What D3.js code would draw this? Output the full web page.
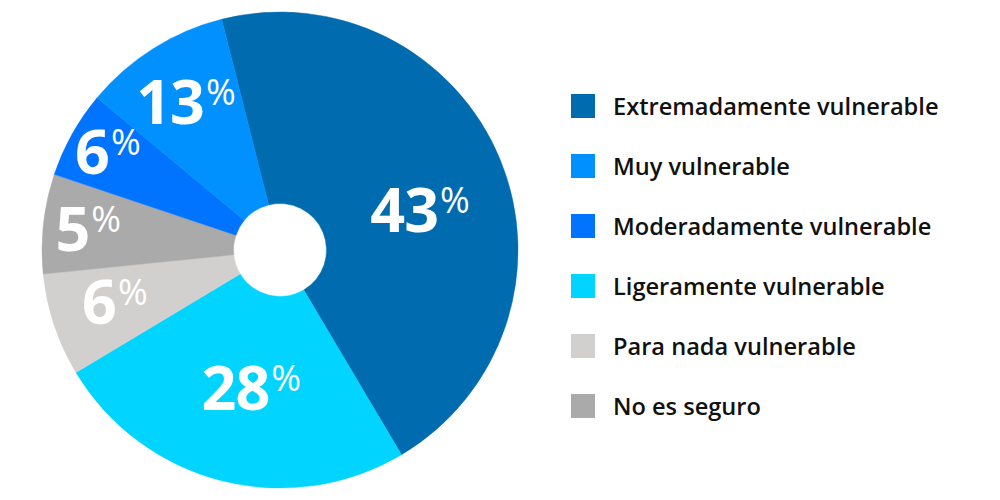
<!DOCTYPE html>
<html>
<head>
<meta charset="utf-8">
<script src="https://cdn.jsdelivr.net/npm/d3@7"></script>
<style>
  html, body { margin: 0; padding: 0; background: #ffffff; }
  svg { display: block; }
</style>
</head>
<body>
<svg id="chart" width="1000" height="500"></svg>
<script>
// ---- data ----
const categories = [
  "Extremadamente vulnerable",
  "Muy vulnerable",
  "Moderadamente vulnerable",
  "Ligeramente vulnerable",
  "Para nada vulnerable",
  "No es seguro"
];
// printed percentages
const percentLabels = [43, 13, 6, 28, 6, 5];
// slice sizes as drawn (share of the circle, %)
const sliceShares = [45.4, 10.0, 5.9, 24.9, 7.0, 6.75];
// order of slices clockwise from the top-left edge of the first slice
const pieOrder = [
  "Extremadamente vulnerable",
  "Ligeramente vulnerable",
  "Para nada vulnerable",
  "No es seguro",
  "Moderadamente vulnerable",
  "Muy vulnerable"
];

// ---- styles / layout ----
const colors = {
  "Extremadamente vulnerable": "#006CAF",
  "Muy vulnerable": "#0091FF",
  "Moderadamente vulnerable": "#0073FF",
  "Ligeramente vulnerable": "#00D4FF",
  "Para nada vulnerable": "#D1D0CE",
  "No es seguro": "#AAAAAA"
};
// label placement: polar position (degrees clockwise from top, radius px)
const labelPolar = {
  "Extremadamente vulnerable": [74.0, 145.7],
  "Muy vulnerable": [327.5, 175],
  "Moderadamente vulnerable": [299.6, 198],
  "Ligeramente vulnerable": [191.7, 141.6],
  "Para nada vulnerable": [252.4, 173.2],
  "No es seguro": [276.2, 192.9]
};
const cx = 280, cy = 250, outerR = 238, innerR = 46.5;
const startDeg = -14.2;
const FONT = "'Open Sans', 'Lato', sans-serif";
const digitSize = 61, pctSize = 36;

const rows = categories.map((c, i) => ({
  name: c, pct: percentLabels[i], share: sliceShares[i]
}));
const ordered = pieOrder.map(n => rows.find(r => r.name === n));

const svg = d3.select("#chart");
const g = svg.append("g").attr("transform", `translate(${cx},${cy})`);

const start = startDeg * Math.PI / 180;
const pie = d3.pie().sort(null).value(d => d.share)
  .startAngle(start).endAngle(start + 2 * Math.PI);
const arcs = pie(ordered);

const arc = d3.arc().innerRadius(innerR).outerRadius(outerR);

g.selectAll("path.slice").data(arcs).enter().append("path")
  .attr("class", "slice")
  .attr("d", arc)
  .attr("fill", d => colors[d.data.name])
  .attr("stroke", d => colors[d.data.name])
  .attr("stroke-width", 0.5);

// labels
const lab = g.selectAll("text.pct").data(arcs).enter().append("text")
  .attr("class", "pct")
  .attr("font-family", FONT)
  .attr("fill", "#ffffff")
  .attr("text-anchor", "middle")
  .attr("transform", d => {
    const [deg, r] = labelPolar[d.data.name];
    const a = deg * Math.PI / 180;
    const x = Math.sin(a) * r;
    const y = -Math.cos(a) * r;
    return `translate(${x},${y + digitSize * 0.357})`;
  });
lab.append("tspan").attr("font-size", digitSize).attr("font-weight", 700)
  .attr("letter-spacing", -1)
  .text(d => d.data.pct);
lab.append("tspan").attr("font-size", pctSize).attr("font-weight", 400)
  .attr("dy", -19).attr("dx", 2).text("%");

// legend
const legend = svg.append("g").attr("transform", "translate(571,94)");
const li = legend.selectAll("g").data(rows).enter().append("g")
  .attr("transform", (d, i) => `translate(0,${i * 60})`);
li.append("rect").attr("width", 24).attr("height", 24)
  .attr("fill", d => colors[d.name]);
li.append("text")
  .attr("x", 42).attr("y", 21)
  .attr("font-family", FONT)
  .attr("font-weight", 600)
  .attr("font-size", 23.6)
  .attr("fill", "#111111")
  .text(d => d.name);
</script>
</body>
</html>
